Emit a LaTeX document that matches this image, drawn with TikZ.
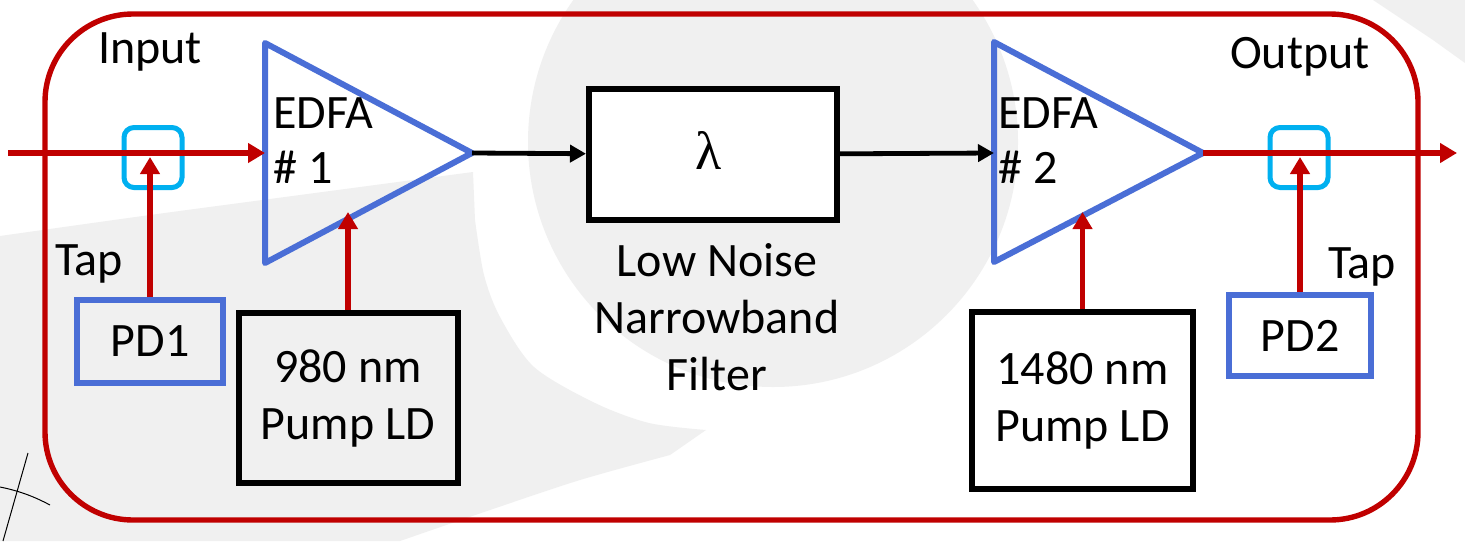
\documentclass[tikz,border=0pt]{standalone}
\usepackage{fontspec}
\setmainfont{Carlito}
\newfontfamily\lamfont{Liberation Serif}
\usetikzlibrary{arrows.meta}

\definecolor{fibrered}{HTML}{C00000}
\definecolor{ampblue}{HTML}{4A6ED6}
\definecolor{tapcyan}{HTML}{00B0F0}
\definecolor{swirlgrey}{HTML}{F0F0F0}

\begin{document}
\begin{tikzpicture}[x=0.5pt, y=-0.5pt,
	font=\fontsize{24}{28.5}\selectfont,
	redline/.style={draw=fibrered, line width=2.7pt},
	redarrow/.style={redline, -{Triangle[length=8.5pt,width=9.5pt]}},
	blackarrow/.style={draw=black, line width=2.4pt, -{Triangle[length=8pt,width=8.5pt]}},
	pdbox/.style={draw=ampblue, line width=3pt},
	ldbox/.style={draw=black, line width=3pt, align=center, inner sep=0pt},
	tapbox/.style={draw=tapcyan, line width=2.5pt, rounded corners=5pt, minimum width=29pt, minimum height=30pt}]
	
	% background swirl
	\fill[white] (0,0) rectangle (1465,541);
	\useasboundingbox (0,0) rectangle (1465,541);
	\begin{scope}
		\clip (0,0) rectangle (1465,541);
		\fill[swirlgrey] (773,142) circle[radius=122.5pt];
		\fill[swirlgrey] plot[smooth] coordinates {(0,236) (150,215) (300,195) (473,172)}
			-- plot[smooth] coordinates {(475,220) (484,275) (500,317) (534,367) (595,403) (649,423) (706,430)}
			-- plot[smooth] coordinates {(670,455) (580,480) (490,510) (400,541)}
			-- (0,541) -- cycle;
		\fill[swirlgrey] (1373,0) -- (1403,20) -- (1433,40) -- (1465,63) -- (1465,0) -- cycle;
	\end{scope}
	\draw[line width=0.5pt] (28,453) -- (3,541);
	\draw[line width=0.5pt] (0,487) .. controls (20,491) and (35,497) .. (50,505);
	
	% frame
	\draw[redline, rounded corners=44pt] (45,14) rectangle (1418,520);
	
	% amplifiers
	\draw[pdbox, line join=round] (265,43) -- (472,153) -- (265,263) -- cycle;
	\draw[pdbox, line join=round] (994,42) -- (1203,153) -- (994,262) -- cycle;
	\coordinate (src)    at (8,153);
	\coordinate (a1in)   at (265,153);
	\coordinate (a1out)  at (472,153);
	\coordinate (a1pump) at (348,212);
	\coordinate (a2in)   at (994,153);
	\coordinate (a2out)  at (1203,153);
	\coordinate (a2pump) at (1082.5,212);
	\coordinate (sink)   at (1457,153);
	\coordinate (t1tip)  at (150,157);
	\coordinate (t2tip)  at (1300,157);
	
	\node[anchor=base west, inner sep=0pt] (edfa1) at (273,128) {EDFA};
	\node[anchor=base west, inner sep=0pt] (num1)  at (273,183) {\# 1};
	\node[anchor=base west, inner sep=0pt] (edfa2) at (998,128) {EDFA};
	\node[anchor=base west, inner sep=0pt] (num2)  at (998,183) {\# 2};
	
	% boxes
	\node[ldbox, fill=white, minimum width=124pt, minimum height=65.5pt] (filter) at (713,154.5) {};
	\node (lambda) at (709,150) {\lamfont\fontsize{27}{30}\selectfont λ};
	\node[align=center, anchor=north, inner sep=0pt] (filtlabel) at (717,243) {Low Noise\\Narrowband\\Filter};
	
	\node[ldbox, minimum width=109.5pt, minimum height=85pt] (ld1) at (348,398) {980 nm\\Pump LD};
	\node[ldbox, minimum width=110.5pt, minimum height=88.5pt] (ld2) at (1082.5,400.5) {1480 nm\\Pump LD};
	
	\node[pdbox, minimum width=73pt, minimum height=41.5pt] (pd1) at (150,341.5) {PD1};
	\node[pdbox, minimum width=71pt, minimum height=40.5pt] (pd2) at (1300,335.5) {PD2};
	
	\node[tapbox] (tap1) at (153,157.5) {};
	\node[tapbox] (tap2) at (1299,157.5) {};
	
	% labels
	\node[anchor=base] (inlabel)  at (150,63)  {Input};
	\node[anchor=base] (outlabel) at (1300,68) {Output};
	\node[anchor=base] (taplabel1) at (89,275)  {Tap};
	\node[anchor=base] (taplabel2) at (1362,278) {Tap};
	
	% connections
	\draw[redarrow] (src) -- (a1in);
	\draw[blackarrow] (a1out) -- (filter);
	\draw[blackarrow] (filter) -- (a2in);
	\draw[redarrow] (a2out) -- (sink);
	\draw[redarrow] (pd1) -- (t1tip);
	\draw[redarrow] (pd2) -- (t2tip);
	\draw[redarrow] (ld1) -- (a1pump);
	\draw[redarrow] (ld2) -- (a2pump);
\end{tikzpicture}
\end{document}
